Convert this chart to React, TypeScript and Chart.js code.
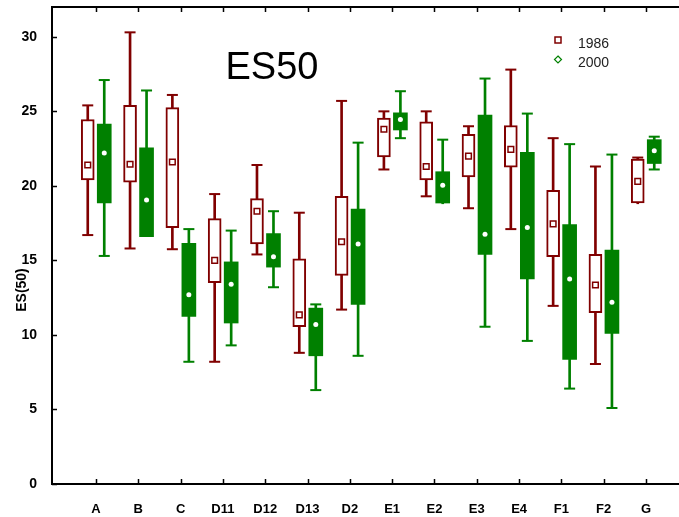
import { useEffect, useRef } from 'react';
import { Chart, registerables } from 'chart.js';
Chart.register(...registerables);

const categories = ['A', 'B', 'C', 'D11', 'D12', 'D13', 'D2', 'E1', 'E2', 'E3', 'E4', 'F1', 'F2', 'G'];

const min1986 = [16.7, 15.8, 15.75, 8.2, 15.4, 8.8, 11.7, 21.1, 19.3, 18.5, 17.1, 11.95, 8.05, 18.8];
const q1_1986 = [20.4, 20.25, 17.2, 13.5, 16.1, 10.55, 14.0, 21.95, 20.4, 20.6, 21.25, 15.25, 11.5, 18.85];
const med1986 = [21.4, 21.45, 21.6, 15.0, 18.3, 11.35, 16.25, 23.8, 21.3, 22.0, 22.45, 17.45, 13.35, 20.3];
const q3_1986 = [24.45, 25.4, 25.25, 17.8, 19.15, 15.1, 19.3, 24.55, 24.3, 23.45, 24.05, 19.7, 15.4, 21.8];
const max1986 = [25.4, 30.3, 26.1, 19.45, 21.4, 18.2, 25.7, 25.0, 25.0, 24.0, 27.8, 23.2, 21.3, 21.9];

const min2000 = [15.3, 16.6, 8.2, 9.3, 13.2, 6.3, 8.6, 23.2, 18.8, 10.55, 9.6, 6.4, 5.1, 21.1];
const q1_2000 = [18.85, 16.6, 11.25, 10.8, 14.55, 8.6, 12.05, 23.75, 18.85, 15.4, 13.75, 8.35, 10.1, 21.5];
const med2000 = [22.2, 19.05, 12.7, 13.4, 15.25, 10.7, 16.1, 24.45, 20.05, 16.75, 17.2, 13.75, 12.2, 22.35];
const q3_2000 = [24.15, 22.55, 16.15, 14.9, 16.8, 11.8, 18.45, 24.9, 20.95, 24.75, 22.25, 17.4, 15.7, 23.1];
const max2000 = [27.1, 26.4, 17.1, 17.0, 18.3, 12.05, 22.9, 26.35, 23.1, 27.2, 24.85, 22.8, 22.1, 23.3];

const yTicks = [0, 5, 10, 15, 20, 25, 30];
const seriesNames = ['1986', '2000'];
const chartTitle = 'ES50';
const yTitle = 'ES(50)';

const RED = '#800000';
const GREEN = '#008000';
const FONT = '"Liberation Sans", Arial, sans-serif';
const OFF = 0.195;

export default function App() {
  const ref = useRef<HTMLCanvasElement>(null);
  useEffect(() => {
    if (!ref.current) return;
    const idx = categories.map((_, i) => i);
    const fr = (i: number) => i - OFF;
    const fg = (i: number) => i + OFF;
    const range = (lo: number[], hi: number[], f: (i: number) => number) =>
      idx.map((i) => ({ x: f(i), y: [lo[i], hi[i]] }));
    const caps = (lo: number[], q1: number[], q3: number[], hi: number[], f: (i: number) => number) => {
      const pts: { x: number; y: number }[] = [];
      idx.forEach((i) => {
        if (hi[i] > q3[i] + 0.05) pts.push({ x: f(i), y: hi[i] });
        if (lo[i] < q1[i] - 0.05) pts.push({ x: f(i), y: lo[i] });
      });
      return pts;
    };
    const pts = (v: number[], f: (i: number) => number) => idx.map((i) => ({ x: f(i), y: v[i] }));

    const deco = {
      id: 'deco',
      afterDraw(chart: any) {
        const { ctx, chartArea } = chart;
        const xs = chart.scales.x;
        const ys = chart.scales.y;
        ctx.save();
        ctx.strokeStyle = '#000';
        ctx.lineWidth = 2;
        ctx.beginPath();
        ctx.moveTo(chartArea.left - 1, chartArea.top);
        ctx.lineTo(chartArea.right, chartArea.top);
        ctx.stroke();
        ctx.lineWidth = 1.5;
        ctx.beginPath();
        idx.forEach((i) => {
          const px = Math.round(xs.getPixelForValue(i)) + 0.5;
          ctx.moveTo(px, chartArea.bottom);
          ctx.lineTo(px, chartArea.bottom - 5);
          ctx.moveTo(px, chartArea.top);
          ctx.lineTo(px, chartArea.top + 5);
        });
        yTicks.forEach((v) => {
          const py = Math.round(ys.getPixelForValue(v)) + 0.5;
          ctx.moveTo(chartArea.left, py);
          ctx.lineTo(chartArea.left + 5, py);
        });
        ctx.stroke();

        ctx.fillStyle = '#000';
        ctx.font = `38px ${FONT}`;
        ctx.textAlign = 'center';
        ctx.textBaseline = 'alphabetic';
        ctx.fillText(chartTitle, 272, 79);

        ctx.save();
        ctx.translate(26, 290);
        ctx.rotate(-Math.PI / 2);
        ctx.font = `bold 14px ${FONT}`;
        ctx.textAlign = 'center';
        ctx.fillText(yTitle, 0, 0);
        ctx.restore();

        ctx.font = `14px ${FONT}`;
        ctx.textAlign = 'left';
        ctx.fillStyle = '#222';
        ctx.fillText(seriesNames[0], 578, 48);
        ctx.fillText(seriesNames[1], 578, 67);
        ctx.strokeStyle = RED;
        ctx.lineWidth = 1.5;
        ctx.strokeRect(555, 37, 6, 6);
        ctx.strokeStyle = GREEN;
        ctx.lineWidth = 1.2;
        ctx.beginPath();
        ctx.moveTo(558, 56);
        ctx.lineTo(561.5, 59.5);
        ctx.lineTo(558, 63);
        ctx.lineTo(554.5, 59.5);
        ctx.closePath();
        ctx.stroke();
        ctx.restore();
      },
    };

    const chart = new Chart(ref.current, {
      type: 'bar',
      data: {
        datasets: [
          { type: 'bar', data: range(min1986, max1986, fr) as any, backgroundColor: RED, barThickness: 2, grouped: false, borderWidth: 0, order: 9 } as any,
          { type: 'scatter', data: caps(min1986, q1_1986, q3_1986, max1986, fr), pointStyle: 'line', radius: 5.5, borderColor: RED, borderWidth: 2, order: 8 } as any,
          { type: 'bar', data: range(min2000, max2000, fg) as any, backgroundColor: GREEN, barThickness: 2, grouped: false, borderWidth: 0, order: 7 } as any,
          { type: 'scatter', data: caps(min2000, q1_2000, q3_2000, max2000, fg), pointStyle: 'line', radius: 5.5, borderColor: GREEN, borderWidth: 2, order: 6 } as any,
          { type: 'bar', data: range(q1_1986, q3_1986, fr) as any, backgroundColor: '#fff', borderColor: RED, borderWidth: 2, borderSkipped: false, barThickness: 13, grouped: false, order: 5 } as any,
          { type: 'bar', data: range(q1_2000, q3_2000, fg) as any, backgroundColor: GREEN, borderColor: GREEN, borderWidth: 0, barThickness: 14, grouped: false, order: 4 } as any,
          { type: 'scatter', data: pts(med1986, fr), pointStyle: 'rect', radius: 4, backgroundColor: '#fff', borderColor: RED, borderWidth: 1.5, order: 2 } as any,
          { type: 'scatter', data: pts(med2000, fg), pointStyle: 'circle', radius: 2.5, backgroundColor: '#fff', borderColor: '#fff', borderWidth: 0, order: 1 } as any,
        ],
      },
      options: {
        animation: false,
        responsive: false,
        events: [],
        layout: { autoPadding: false, padding: { top: 7, left: 0, right: 0, bottom: 0 } },
        plugins: { legend: { display: false }, tooltip: { enabled: false }, title: { display: false } },
        scales: {
          x: {
            type: 'linear',
            min: -1.04,
            max: 13.78,
            offset: false,
            grid: { display: false },
            border: { display: true, color: '#000', width: 2 },
            ticks: {
              autoSkip: false,
              maxRotation: 0,
              padding: 10,
              color: '#000',
              font: { family: FONT, weight: 'bold', size: 13 },
              callback: (v: any) => categories[v as number] ?? '',
            },
            afterBuildTicks: (s: any) => {
              s.ticks = idx.map((v) => ({ value: v }));
            },
            afterFit: (s: any) => {
              s.height = 33;
              s.paddingLeft = 0;
              s.paddingRight = 0;
              s.paddingTop = 0;
              s.paddingBottom = 0;
            },
          },
          y: {
            type: 'linear',
            min: 0,
            max: 32,
            grid: { display: false },
            border: { display: true, color: '#000', width: 2 },
            ticks: {
              padding: 7,
              color: '#000',
              font: { family: FONT, weight: 'bold', size: 14 },
            },
            afterBuildTicks: (s: any) => {
              s.ticks = yTicks.map((v) => ({ value: v }));
            },
            afterFit: (s: any) => {
              s.width = 52;
              s.paddingLeft = 0;
              s.paddingRight = 0;
              s.paddingTop = 0;
              s.paddingBottom = 0;
            },
          },
        },
      } as any,
      plugins: [deco],
    });
    return () => chart.destroy();
  }, []);

  return (
    <div style={{ position: 'absolute', left: 0, top: 0, width: 679, height: 517, background: '#fff' }}>
      <canvas ref={ref} width={679} height={517} />
    </div>
  );
}
